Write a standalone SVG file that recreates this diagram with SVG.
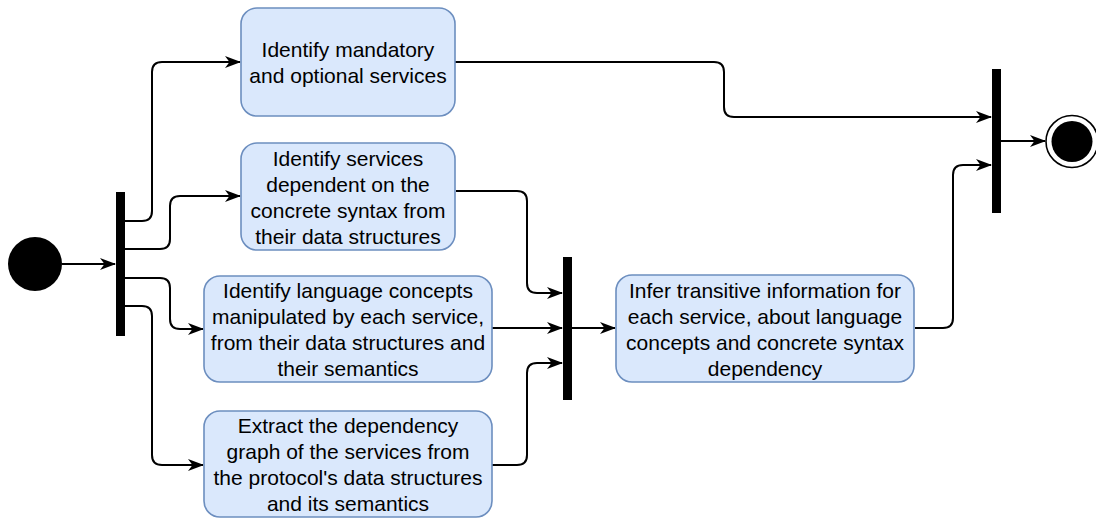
<svg xmlns="http://www.w3.org/2000/svg" width="1096" height="518" viewBox="0 0 1096 518">
<style>
.box{fill:#dae8fc;stroke:#6c8ebf;stroke-width:1.6}
.bar{fill:#000}
.t{font-family:"Liberation Sans",Arial,sans-serif;font-size:21px;fill:#000;text-anchor:middle}
.c{fill:none;stroke:#000;stroke-width:2;marker-end:url(#arr)}
</style>
<defs>
<marker id="arr" viewBox="0 0 16 12" refX="15" refY="6" markerWidth="16" markerHeight="12" markerUnits="userSpaceOnUse" orient="auto">
<path d="M0,0 L16,6 L0,12 L4.5,6 Z" fill="#000"/>
</marker>
</defs>
<rect width="1096" height="518" fill="#fff"/>
<g id="connectors">
<path class="c" d="M62,264 H115"/>
<path class="c" d="M125,221 H142 Q152,221 152,211 V72 Q152,62 162,62 H240"/>
<path class="c" d="M125,249 H160 Q170,249 170,239 V206 Q170,196 180,196 H240"/>
<path class="c" d="M125,278 H160 Q170,278 170,288 V319 Q170,329 180,329 H203"/>
<path class="c" d="M125,306 H142 Q152,306 152,316 V455 Q152,465 162,465 H203"/>
<path class="c" d="M456,191 H517 Q527,191 527,201 V283 Q527,293 537,293 H562"/>
<path class="c" d="M492,328 H562"/>
<path class="c" d="M492,465 H517 Q527,465 527,455 V373 Q527,363 537,363 H562"/>
<path class="c" d="M572,328 H615"/>
<path class="c" d="M455,62 H714 Q724,62 724,72 V107 Q724,117 734,117 H991"/>
<path class="c" d="M915,328 H943 Q953,328 953,318 V175 Q953,165 963,165 H991"/>
<path class="c" d="M1001,141 H1045"/>
</g>
<g id="start"><circle cx="35" cy="264" r="27" fill="#000"/></g>
<g id="fork"><rect class="bar" x="116" y="192" width="9" height="144"/></g>
<g id="n1">
<rect class="box" x="241" y="8" width="214" height="108" rx="16"/>
<text class="t" x="348" y="56.5">Identify mandatory</text>
<text class="t" x="348" y="82.5">and optional services</text>
</g>
<g id="n2">
<rect class="box" x="241" y="143" width="214" height="107" rx="16"/>
<text class="t" x="348" y="165.5">Identify services</text>
<text class="t" x="348" y="191.5">dependent on the</text>
<text class="t" x="348" y="217.5">concrete syntax from</text>
<text class="t" x="348" y="243.5">their data structures</text>
</g>
<g id="n3">
<rect class="box" x="204" y="276" width="288" height="106" rx="16"/>
<text class="t" x="348" y="297.5">Identify language concepts</text>
<text class="t" x="348" y="323.5">manipulated by each service,</text>
<text class="t" x="348" y="349.5">from their data structures and</text>
<text class="t" x="348" y="375.5">their semantics</text>
</g>
<g id="n4">
<rect class="box" x="204" y="411" width="288" height="106" rx="16"/>
<text class="t" x="348" y="432.5">Extract the dependency</text>
<text class="t" x="348" y="458.5">graph of the services from</text>
<text class="t" x="348" y="484.5">the protocol's data structures</text>
<text class="t" x="348" y="510.5">and its semantics</text>
</g>
<g id="join1"><rect class="bar" x="563" y="257" width="9" height="143"/></g>
<g id="n5">
<rect class="box" x="616" y="275" width="298" height="107" rx="16"/>
<text class="t" x="765" y="297.5">Infer transitive information for</text>
<text class="t" x="765" y="323.5">each service, about language</text>
<text class="t" x="765" y="349.5">concepts and concrete syntax</text>
<text class="t" x="765" y="375.5">dependency</text>
</g>
<g id="join2"><rect class="bar" x="992" y="69" width="9" height="144"/></g>
<g id="end">
<circle cx="1072" cy="141.5" r="26" fill="#fff" stroke="#000" stroke-width="1.6"/>
<circle cx="1072" cy="141.5" r="20.5" fill="#000"/>
</g>
</svg>
